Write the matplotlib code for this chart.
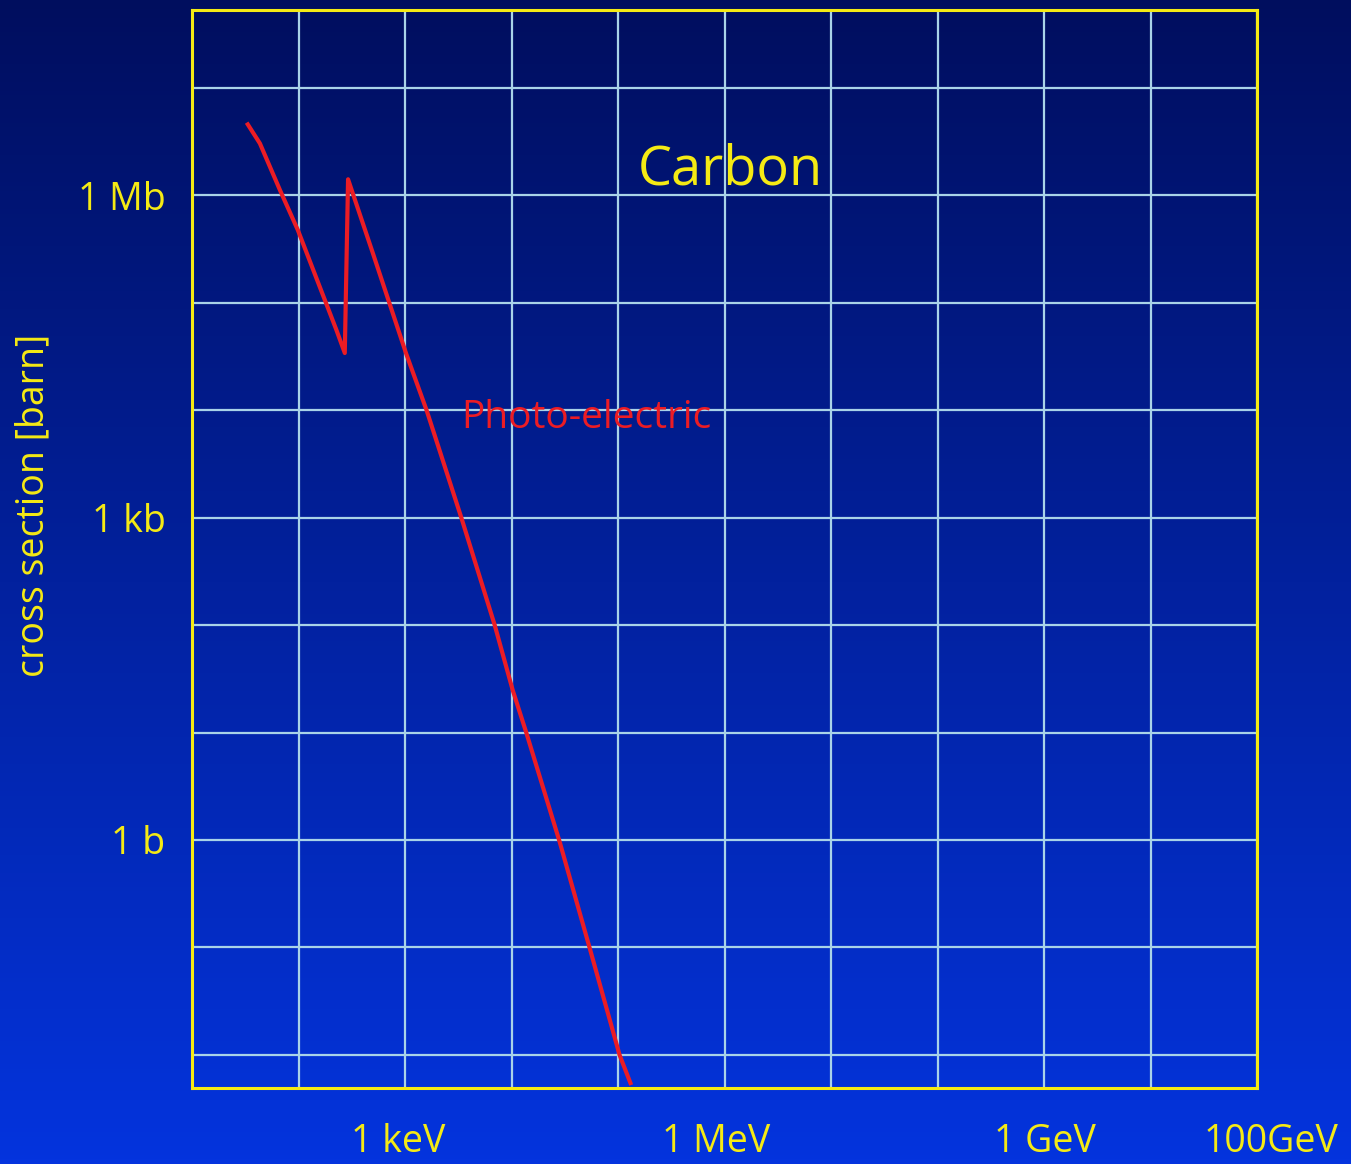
import numpy as np
import matplotlib
matplotlib.use('Agg')
import matplotlib.pyplot as plt
from matplotlib.transforms import blended_transform_factory, offset_copy

plt.rcParams['font.family'] = ['Open Sans', 'DejaVu Sans']

# photo-electric cross section of carbon
energy_eV = [32.6, 43.4, 67.0, 98.6, 227, 272, 292, 499, 1028, 1592,
             3388, 6950, 10260, 13800, 28300, 54200, 103500, 133000]
sigma_barn = [4.71e6, 3.02e6, 1.11e6, 4.72e5, 5.55e4, 3.39e4, 1.40e6, 2.88e5,
              3.32e4, 1.0e4, 989, 100, 24.8, 9.89, 0.964, 0.0989, 0.01, 0.00526]

y_tick_vals = [1, 1e3, 1e6]
y_tick_labels = ['1 b', '1 kb', '1 Mb']
x_label_vals = [1e3, 1e6, 1e9, 1e11]
x_label_text = ['1 keV', '1 MeV', '1 GeV', '100GeV']
x_label_nudge = [-5, -6, 1, 10]  # points

yellow = '#f5ea14'
gridc = '#a9d3e8'
red = '#ec1c24'

fig = plt.figure(figsize=(13.51, 11.64), dpi=100)

# gradient background
bg = fig.add_axes([0, 0, 1, 1], zorder=0)
top = np.array([0, 14, 94]) / 255
bot = np.array([4, 52, 222]) / 255
t = np.linspace(0, 1, 256)[:, None]
grad = top[None, :] * (1 - t) + bot[None, :] * t
bg.imshow(grad[:, None, :], aspect='auto', extent=[0, 1, 0, 1], origin='upper')
bg.axis('off')

ax = fig.add_axes([192/1351, 1 - 1088/1164, 1065/1351, 1078/1164], zorder=1)
ax.set_facecolor('none')
ax.set_xscale('log')
ax.set_yscale('log')
ax.set_xlim(10, 1e11)
ax.set_ylim(10**-2.307, 10**7.721)

ax.set_xticks(10.0 ** np.arange(1, 12))
ax.set_xticklabels([])
ax.set_xticks([], minor=True)
decades = 10.0 ** np.arange(-2, 8)
ax.set_yticks(decades)
ax.set_yticklabels([y_tick_labels[y_tick_vals.index(v)] if v in y_tick_vals else ''
                    for v in decades])
ax.set_yticks([], minor=True)
ax.tick_params(length=0, labelsize=27, labelcolor=yellow, pad=19)
ax.grid(True, which='major', color=gridc, linewidth=1.6)
ax.set_axisbelow(True)
for s in ax.spines.values():
    s.set_color(yellow)
    s.set_linewidth(2.2)

ax.plot(energy_eV, sigma_barn, color=red, linewidth=3, solid_capstyle='butt', zorder=3)

trans = blended_transform_factory(ax.transData, ax.transAxes)
for xv, lab, dx in zip(x_label_vals, x_label_text, x_label_nudge):
    tr = offset_copy(trans, fig=fig, x=dx, y=0, units='points')
    ax.text(xv, -0.05, lab, transform=tr, ha='center', va='center',
            fontsize=27, color=yellow, clip_on=False)

ax.text(0.505, 0.852, 'Carbon', transform=ax.transAxes, ha='center', va='center',
        fontsize=39, color=yellow)
ax.text(0.2525, 0.6215, 'Photo-electric', transform=ax.transAxes, ha='left',
        va='center', fontsize=28, color=red)

fig.text(33/1351, 1 - 505/1164, 'cross section [barn]', rotation=90, ha='center',
         va='center', fontsize=27, color=yellow)

fig.savefig('out.png', dpi=100)
